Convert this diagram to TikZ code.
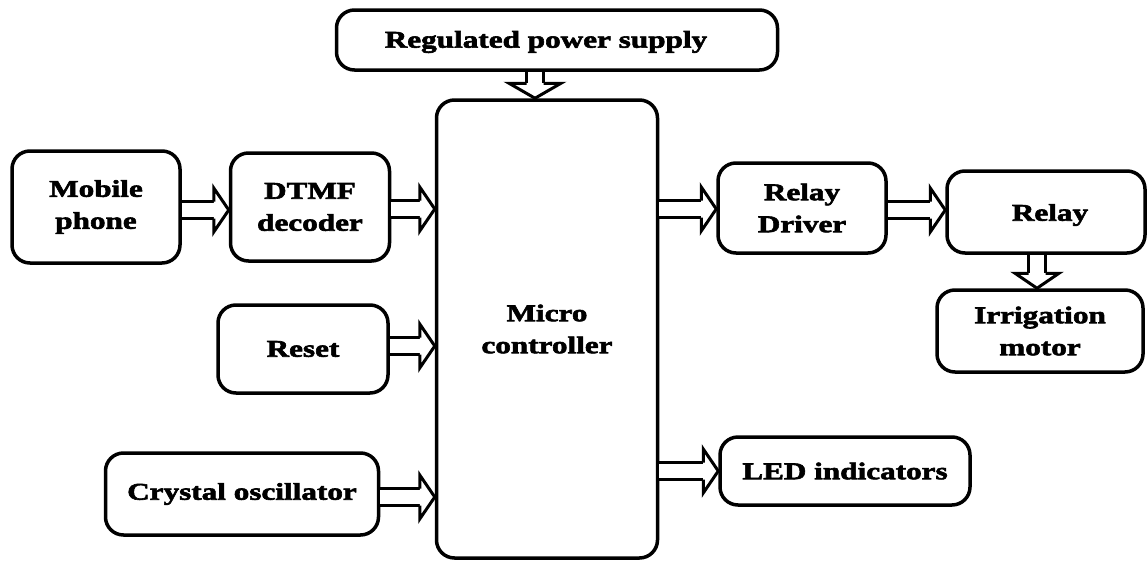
\documentclass[tikz,border=0pt]{standalone}
\usepackage{fontspec}
\setmainfont{Liberation Serif}
\newfontfamily\heavy[FakeStretch=1.3,FakeBold=2.5]{Liberation Serif Bold}
\usetikzlibrary{calc}
\newcommand\darr[3][22pt]{%
  \path #2 coordinate (dS) #3 coordinate (dT);
  \coordinate (dB) at ($(dT)!15pt!(dS)$);
  \draw[shaft] (dS) -- (dB);
  \fill[white] ($(dB)!#1!90:(dT)$) -- (dT) -- ($(dB)!#1!-90:(dT)$) -- cycle;
  \draw[headline] ($(dB)!8.5pt!90:(dT)$) -- ($(dB)!#1!90:(dT)$) -- (dT)
     -- ($(dB)!#1!-90:(dT)$) -- ($(dB)!8.5pt!-90:(dT)$);
}
\begin{document}
\begin{tikzpicture}[x=1pt,y=-1pt,
  blk/.style={draw, line width=3.5pt, rounded corners=18pt, inner sep=0pt, align=center,
    font=\heavy\fontsize{24}{32}\selectfont},
  lbl/.style={inner sep=0pt, align=center, font=\heavy\fontsize{24}{32}\selectfont},
  shaft/.style={double, line width=3pt, double distance=14pt},
  headline/.style={line width=3pt, line join=miter}]
\useasboundingbox (0,0) rectangle (1148,562);
\node[blk, minimum width=441pt, minimum height=60pt] (ps) at (557,40) {};
\node[lbl] (pslabel) at (546,42) {Regulated power supply};
\node[blk, minimum width=221pt, minimum height=458pt] (mc) at (547,329) {Micro\\controller};
\node[blk, minimum width=168pt, minimum height=112pt] (mp) at (96,207) {Mobile\\phone};
\node[blk, minimum width=159pt, minimum height=108pt] (dtmf) at (310,207) {DTMF\\decoder};
\node[blk, minimum width=170pt, minimum height=88pt] (reset) at (303,349) {Reset};
\node[blk, minimum width=273pt, minimum height=82pt] (xtal) at (242,494) {Crystal oscillator};
\node[blk, minimum width=168pt, minimum height=90pt] (rd) at (802,208) {Relay\\Driver};
\node[blk, minimum width=198pt, minimum height=82pt] (relay) at (1046,212) {};
\node[lbl] (relaylabel) at (1050,215) {Relay};
\node[blk, minimum width=206pt, minimum height=82pt] (irr) at (1040,331) {Irrigation\\motor};
\node[blk, minimum width=250pt, minimum height=68pt] (led) at (845,471) {LED indicators};
\darr[26pt]{([xshift=-22pt]ps.south)}{([xshift=-22pt]ps.south |- mc.north)}
\darr{(mp.east |- 0,210)}{(dtmf.west |- 0,210)}
\darr{(dtmf.east |- 0,209)}{(mc.west |- 0,209)}
\darr{(reset.east |- 0,346)}{(mc.west |- 0,346)}
\darr{(xtal.east |- 0,497)}{(mc.west |- 0,497)}
\darr{(mc.east |- 0,209)}{(rd.west |- 0,209)}
\darr{(rd.east |- 0,210)}{(relay.west |- 0,210)}
\darr{(relay.south -| 1037,0)}{(irr.north -| 1037,0)}
\darr{(mc.east |- 0,471)}{(led.west |- 0,471)}
\end{tikzpicture}
\end{document}
